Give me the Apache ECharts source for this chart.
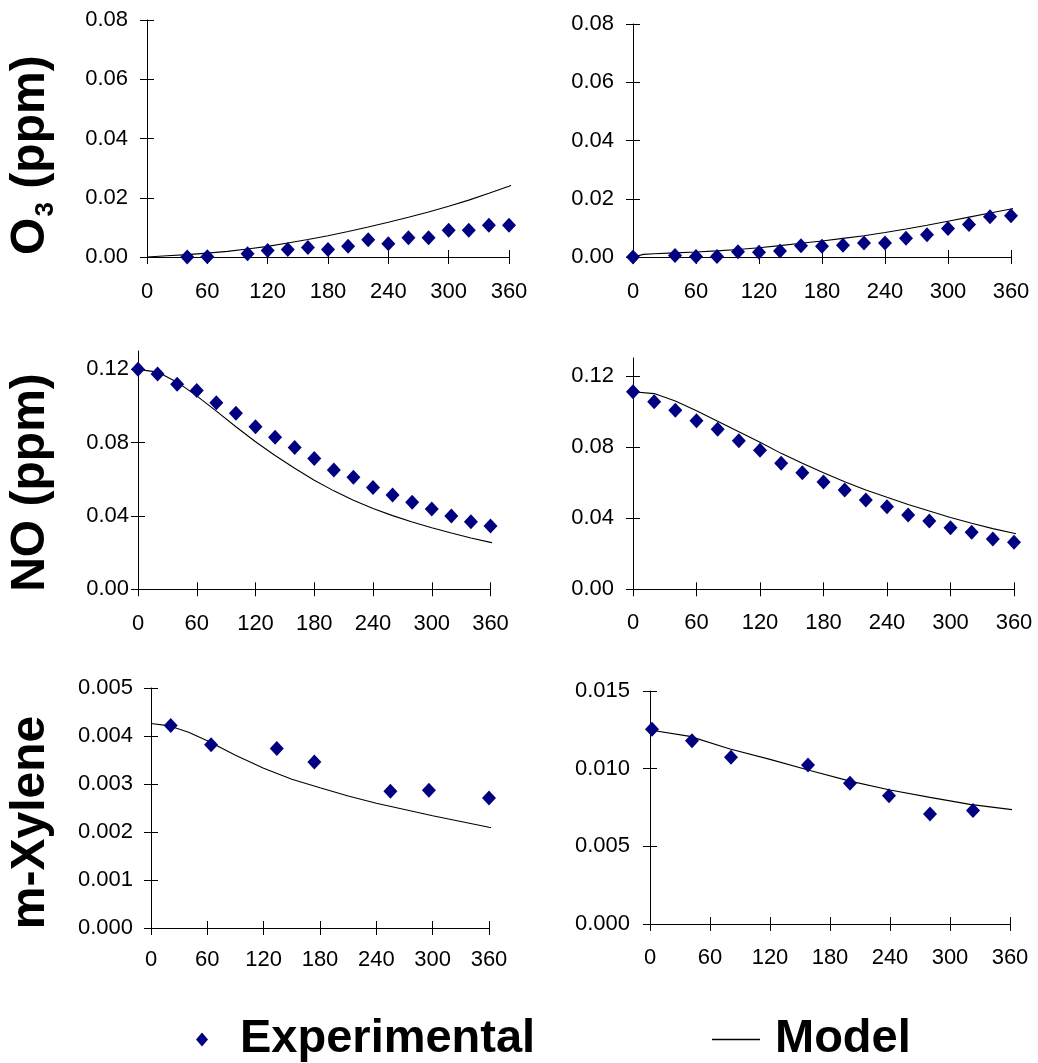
<!DOCTYPE html>
<html><head><meta charset="utf-8">
<script src="https://cdn.jsdelivr.net/npm/echarts@6/dist/echarts.min.js"></script>
<style>html,body{margin:0;padding:0;background:#fff}#c{width:1038px;height:1063px}</style>
</head><body><div id="c"></div>
<script>
// ---------- DATA ----------
const xTicks = [0, 60, 120, 180, 240, 300, 360];
const yTicksO3 = [0, 0.02, 0.04, 0.06, 0.08];
const yTicksNO = [0, 0.04, 0.08, 0.12];
const yTicksXylL = [0, 0.001, 0.002, 0.003, 0.004, 0.005];
const yTicksXylR = [0, 0.005, 0.010, 0.015];

const o3LeftExpTime = [40, 60, 100, 120, 140, 160, 180, 200, 220, 240, 260, 280, 300, 320, 340, 360];
const o3LeftExp = [0.0000, 0.0001, 0.0011, 0.0022, 0.0025, 0.0032, 0.0025, 0.0036, 0.0058, 0.0045, 0.0065, 0.0065, 0.0090, 0.0090, 0.0107, 0.0107];
const o3LeftModelTime = [0, 20, 40, 60, 80, 100, 120, 140, 160, 180, 200, 220, 240, 260, 280, 300, 320, 340, 360, 366];
const o3LeftModel = [0, 0.0004, 0.0008, 0.0013, 0.0019, 0.0027, 0.0036, 0.0047, 0.0059, 0.0072, 0.0086, 0.0101, 0.0117, 0.0134, 0.0152, 0.0171, 0.0192, 0.0215, 0.0239, 0.0247];

const o3RightExpTime = [0, 40, 60, 80, 100, 120, 140, 160, 180, 200, 220, 240, 260, 280, 300, 320, 340, 360];
const o3RightExp = [0, 0.0005, 0.0002, 0.0002, 0.0018, 0.0016, 0.0021, 0.0039, 0.0037, 0.0040, 0.0048, 0.0048, 0.0064, 0.0076, 0.0098, 0.0112, 0.0138, 0.0142];
const o3RightModelTime = [0, 10, 20, 40, 60, 80, 100, 120, 140, 160, 180, 200, 220, 240, 260, 280, 300, 320, 340, 360, 366];
const o3RightModel = [0, 0.0009, 0.0011, 0.0014, 0.0017, 0.0021, 0.0026, 0.0032, 0.0039, 0.0047, 0.0055, 0.0064, 0.0073, 0.0084, 0.0096, 0.0109, 0.0123, 0.0137, 0.0151, 0.0165, 0.0169];

const noLeftExpTime = [0, 20, 40, 60, 80, 100, 120, 140, 160, 180, 200, 220, 240, 260, 280, 300, 320, 340, 360];
const noLeftExp = [0.1200, 0.1175, 0.1118, 0.1084, 0.1018, 0.0960, 0.0887, 0.0829, 0.0773, 0.0713, 0.0651, 0.0611, 0.0555, 0.0515, 0.0475, 0.0438, 0.0400, 0.0369, 0.0345];
const noLeftModelTime = [0, 20, 40, 60, 80, 100, 120, 140, 160, 180, 200, 220, 240, 260, 280, 300, 320, 340, 360, 366];
const noLeftModel = [0.1200, 0.1185, 0.1130, 0.1055, 0.0972, 0.0887, 0.0805, 0.0730, 0.0660, 0.0595, 0.0537, 0.0486, 0.0441, 0.0402, 0.0367, 0.0336, 0.0307, 0.0280, 0.0256, 0.0249];

const noRightExpTime = [0, 20, 40, 60, 80, 100, 120, 140, 160, 180, 200, 220, 240, 260, 280, 300, 320, 340, 360];
const noRightExp = [0.1110, 0.1054, 0.1007, 0.0947, 0.0900, 0.0835, 0.0782, 0.0708, 0.0655, 0.0603, 0.0558, 0.0502, 0.0464, 0.0417, 0.0384, 0.0346, 0.0320, 0.0283, 0.0264];
const noRightModelTime = [0, 20, 40, 60, 80, 100, 120, 140, 160, 180, 200, 220, 240, 260, 280, 300, 320, 340, 360, 366];
const noRightModel = [0.1110, 0.1100, 0.1058, 0.1003, 0.0945, 0.0885, 0.0826, 0.0764, 0.0708, 0.0655, 0.0605, 0.0558, 0.0517, 0.0477, 0.0440, 0.0404, 0.0371, 0.0341, 0.0315, 0.0307];

const xylLeftExpTime = [21, 64, 134, 174, 255, 296, 360];
const xylLeftExp = [0.00422, 0.00382, 0.00374, 0.00346, 0.00285, 0.00287, 0.00271];
const xylLeftModelTime = [0, 20, 40, 60, 90, 120, 150, 180, 210, 240, 270, 300, 330, 360, 366];
const xylLeftModel = [0.00426, 0.00421, 0.00408, 0.00390, 0.00360, 0.00333, 0.00310, 0.00292, 0.00275, 0.00260, 0.00247, 0.00234, 0.00222, 0.00210, 0.00208];

const xylRightExpTime = [2, 42, 81, 158, 200, 239, 280, 323];
const xylRightExp = [0.01253, 0.01180, 0.01073, 0.01024, 0.00906, 0.00826, 0.00708, 0.00730];
const xylRightModelTime = [0, 40, 80, 120, 160, 200, 240, 280, 320, 360, 366];
const xylRightModel = [0.01249, 0.01208, 0.01127, 0.01060, 0.00988, 0.00920, 0.00863, 0.00815, 0.00770, 0.00738, 0.00732];

// ---------- LAYOUT ----------
const FONT = "'Liberation Sans', Arial, sans-serif";
const pair = (xs, ys) => xs.map((x, i) => [x, ys[i]]);

const panels = [
  {grid: {left: 147, top: 20, width: 362, height: 237}, yMax: 0.08, yTicks: yTicksO3, dec: 2, yMargin: 19, xMargin: 24,
   exp: pair(o3LeftExpTime, o3LeftExp), model: pair(o3LeftModelTime, o3LeftModel)},
  {grid: {left: 633, top: 24, width: 378, height: 233}, yMax: 0.08, yTicks: yTicksO3, dec: 2, yMargin: 19, xMargin: 24,
   exp: pair(o3RightExpTime, o3RightExp), model: pair(o3RightModelTime, o3RightModel)},
  {grid: {left: 138, top: 351, width: 352.5, height: 238.3}, yMax: 0.13, yTicks: yTicksNO, dec: 2, yMargin: 9, xMargin: 24,
   exp: pair(noLeftExpTime, noLeftExp), model: pair(noLeftModelTime, noLeftModel)},
  {grid: {left: 633, top: 358, width: 381, height: 231.3}, yMax: 0.13, yTicks: yTicksNO, dec: 2, yMargin: 19, xMargin: 23,
   exp: pair(noRightExpTime, noRightExp), model: pair(noRightModelTime, noRightModel)},
  {grid: {left: 151, top: 688, width: 338, height: 240}, yMax: 0.005, yTicks: yTicksXylL, dec: 3, yMargin: 18, xMargin: 21,
   exp: pair(xylLeftExpTime, xylLeftExp), model: pair(xylLeftModelTime, xylLeftModel)},
  {grid: {left: 650, top: 691, width: 360, height: 233}, yMax: 0.015, yTicks: yTicksXylR, dec: 3, yMargin: 20, xMargin: 23,
   exp: pair(xylRightExpTime, xylRightExp), model: pair(xylRightModelTime, xylRightModel)}
];

const grids = [], xAxes = [], yAxes = [], series = [];
const black = '#000';
const navy = '#000080';
panels.forEach((p, i) => {
  grids.push(Object.assign({outerBoundsMode: 'none', containLabel: false}, p.grid));
  xAxes.push({gridIndex: i, type: 'value', position: 'bottom', min: 0, max: 360,
    axisLine: {show: true, onZero: false, lineStyle: {color: black, width: 1}},
    axisTick: {show: true, inside: false, length: 7, customValues: xTicks, lineStyle: {color: black, width: 1}},
    axisLabel: {show: true, customValues: xTicks, margin: p.xMargin, color: black, fontSize: 22, fontFamily: FONT},
    splitLine: {show: false}});
  xAxes.push({gridIndex: i, type: 'value', position: 'bottom', min: 0, max: 360,
    axisLine: {show: false},
    axisTick: {show: true, inside: true, length: 7, customValues: xTicks, lineStyle: {color: black, width: 1}},
    axisLabel: {show: false}, splitLine: {show: false}});
  yAxes.push({gridIndex: i, type: 'value', position: 'left', min: 0, max: p.yMax,
    axisLine: {show: true, onZero: false, lineStyle: {color: black, width: 1}},
    axisTick: {show: true, inside: false, length: 7, customValues: p.yTicks, lineStyle: {color: black, width: 1}},
    axisLabel: {show: true, customValues: p.yTicks, margin: p.yMargin, color: black, fontSize: 22, fontFamily: FONT,
      formatter: (v) => Number(v).toFixed(p.dec)},
    splitLine: {show: false}});
  yAxes.push({gridIndex: i, type: 'value', position: 'left', min: 0, max: p.yMax,
    axisLine: {show: false},
    axisTick: {show: true, inside: true, length: 7, customValues: p.yTicks, lineStyle: {color: black, width: 1}},
    axisLabel: {show: false}, splitLine: {show: false}});
  series.push({type: 'line', name: 'Model', xAxisIndex: 2 * i, yAxisIndex: 2 * i, data: p.model,
    symbol: 'none', showSymbol: false, smooth: false, clip: false,
    lineStyle: {color: black, width: 1.1}, itemStyle: {color: black}, z: 2});
  series.push({type: 'scatter', name: 'Experimental', xAxisIndex: 2 * i, yAxisIndex: 2 * i, data: p.exp,
    symbol: 'diamond', symbolSize: [14, 15], itemStyle: {color: navy, opacity: 1}, z: 3});
});

const titleFont = {fontSize: 48, fontWeight: 'bold', fontFamily: FONT, fill: black};
const legendText = {fontSize: 47, fontWeight: 'bold', fontFamily: FONT, color: black};

const option = {
  backgroundColor: '#fff',
  animation: false,
  grid: grids, xAxis: xAxes, yAxis: yAxes, series: series,
  legend: [
    {data: [{name: 'Experimental', icon: 'diamond', itemStyle: {color: navy, opacity: 1}}],
     left: 196, top: 1016, padding: 0, itemWidth: 12, itemHeight: 14, selectedMode: false,
     textStyle: Object.assign({padding: [0, 0, 0, 27]}, legendText)},
    {data: [{name: 'Model', icon: 'path://M0,0L48,0L48,1.4L0,1.4Z', itemStyle: {color: black}}],
     left: 712, top: 1016, padding: 0, itemWidth: 48, itemHeight: 14, selectedMode: false,
     textStyle: Object.assign({padding: [0, 0, 0, 10]}, legendText)}
  ],
  graphic: [
    {type: 'group', x: 30.5, y: 255, rotation: Math.PI / 2, children: [
      {type: 'text', x: 0, y: 0, style: Object.assign({text: 'O', textAlign: 'left', textVerticalAlign: 'middle'}, titleFont)},
      {type: 'text', x: 38.5, y: 15.6, style: {text: '3', textAlign: 'left', textVerticalAlign: 'middle', fontSize: 26, fontWeight: 'bold', fontFamily: FONT, fill: black}},
      {type: 'text', x: 53, y: 0, style: Object.assign({text: ' (ppm)', textAlign: 'left', textVerticalAlign: 'middle'}, titleFont)}
    ]},
    {type: 'text', x: 30.5, y: 482.5, rotation: Math.PI / 2,
     style: Object.assign({text: 'NO (ppm)', textAlign: 'center', textVerticalAlign: 'middle'}, titleFont)},
    {type: 'text', x: 30.5, y: 822.5, rotation: Math.PI / 2,
     style: Object.assign({text: 'm-Xylene', textAlign: 'center', textVerticalAlign: 'middle'}, titleFont)}
  ]
};

const chart = echarts.init(document.getElementById('c'), null, {renderer: 'canvas'});
chart.setOption(option);
</script>
</body></html>
